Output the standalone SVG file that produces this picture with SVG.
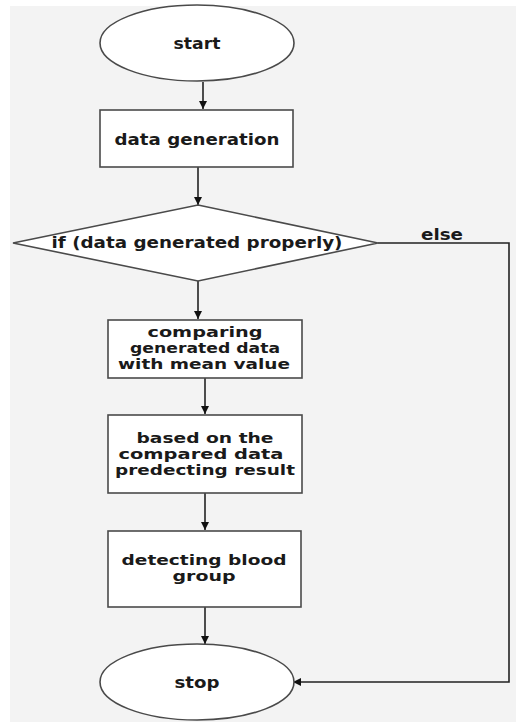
<svg xmlns="http://www.w3.org/2000/svg" width="516" height="722" viewBox="0 0 516 722">
  <style>
    .shape { fill: #ffffff; stroke: #4a4a4a; stroke-width: 1.6; }
    .edge { fill: none; stroke: #222222; stroke-width: 1.6; }
    .label { font-family: "DejaVu Sans", "Verdana", sans-serif; font-weight: bold; font-size: 15px; fill: #1a1a1a; text-anchor: middle; }
    .multi { font-size: 13.5px; }
  </style>
  <defs>
    <marker id="arrow" viewBox="0 0 10 10" refX="10" refY="5" markerWidth="8" markerHeight="8" markerUnits="userSpaceOnUse" orient="auto">
      <path d="M0,0 L10,5 L0,10 Z" fill="#111111"/>
    </marker>
  </defs>

  <!-- page background -->
  <rect x="0" y="0" width="516" height="722" fill="#ffffff"/>
  <rect x="10" y="6" width="506" height="716" fill="#f3f3f3"/>

  <!-- connectors -->
  <g id="connectors">
    <line class="edge" x1="203" y1="82" x2="203" y2="109" marker-end="url(#arrow)"/>
    <line class="edge" x1="198" y1="167" x2="198" y2="205" marker-end="url(#arrow)"/>
    <line class="edge" x1="198" y1="281" x2="198" y2="319" marker-end="url(#arrow)"/>
    <line class="edge" x1="205" y1="378" x2="205" y2="414" marker-end="url(#arrow)"/>
    <line class="edge" x1="205" y1="493" x2="205" y2="530" marker-end="url(#arrow)"/>
    <line class="edge" x1="205" y1="607" x2="205" y2="644" marker-end="url(#arrow)"/>
    <polyline class="edge" points="378,243 509,243 509,682 293,682" marker-end="url(#arrow)"/>
    <text class="label" x="442" y="240" textLength="42" lengthAdjust="spacingAndGlyphs">else</text>
  </g>

  <!-- nodes -->
  <g id="start">
    <ellipse class="shape" cx="197" cy="43" rx="97" ry="38"/>
    <text class="label" x="197" y="49" textLength="47" lengthAdjust="spacingAndGlyphs">start</text>
  </g>

  <g id="data-generation">
    <rect class="shape" x="100" y="110" width="193" height="57"/>
    <text class="label" x="197" y="145" textLength="165" lengthAdjust="spacingAndGlyphs">data generation</text>
  </g>

  <g id="check-generated">
    <polygon class="shape" points="198,205 378,243 198,281 13,243"/>
    <text class="label" x="197" y="248" textLength="291" lengthAdjust="spacingAndGlyphs">if (data generated properly)</text>
  </g>

  <g id="compare-mean">
    <rect class="shape" x="108" y="320" width="194" height="58"/>
    <text class="label multi" x="205" y="337" textLength="115" lengthAdjust="spacingAndGlyphs">comparing</text>
    <text class="label multi" x="205" y="353" textLength="150" lengthAdjust="spacingAndGlyphs">generated data</text>
    <text class="label multi" x="204" y="369" textLength="172" lengthAdjust="spacingAndGlyphs">with mean value</text>
  </g>

  <g id="predict-result">
    <rect class="shape" x="108" y="415" width="194" height="78"/>
    <text class="label multi" x="205" y="443" textLength="137" lengthAdjust="spacingAndGlyphs">based on the</text>
    <text class="label multi" x="201" y="459" textLength="165" lengthAdjust="spacingAndGlyphs">compared data</text>
    <text class="label multi" x="205" y="475" textLength="180" lengthAdjust="spacingAndGlyphs">predecting result</text>
  </g>

  <g id="detect-group">
    <rect class="shape" x="108" y="531" width="193" height="76"/>
    <text class="label multi" x="204" y="565" textLength="165" lengthAdjust="spacingAndGlyphs">detecting blood</text>
    <text class="label multi" x="204" y="581" textLength="63" lengthAdjust="spacingAndGlyphs">group</text>
  </g>

  <g id="stop">
    <ellipse class="shape" cx="197" cy="682" rx="97" ry="38"/>
    <text class="label" x="197" y="688" textLength="45" lengthAdjust="spacingAndGlyphs">stop</text>
  </g>
</svg>
